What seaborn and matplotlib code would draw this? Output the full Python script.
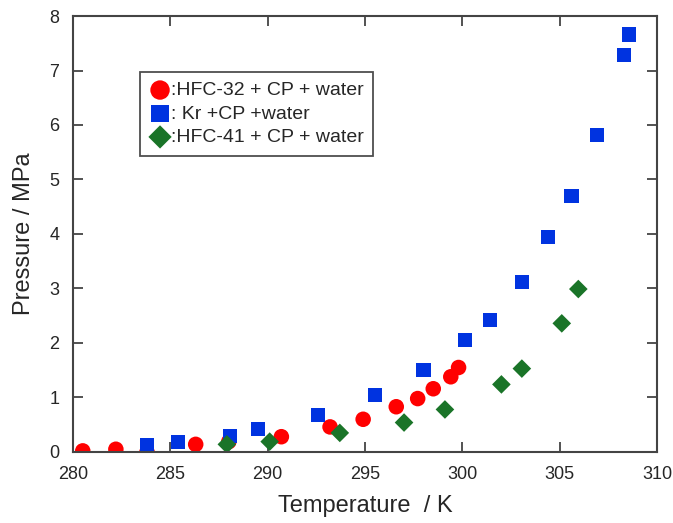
import pandas as pd
import numpy as np
import matplotlib.pyplot as plt
import seaborn as sns

# data
t_hfc32 = [280.5, 282.2, 283.8, 286.3, 288.0, 290.7, 293.2, 294.9, 296.6, 297.7, 298.5, 299.4, 299.8]
p_hfc32 = [0.02, 0.05, 0.00, 0.14, 0.19, 0.28, 0.46, 0.60, 0.83, 0.98, 1.16, 1.38, 1.55]

t_kr = [283.8, 285.4, 288.05, 289.5, 292.6, 295.5, 298.0, 300.15, 301.4, 303.05, 304.4, 305.6, 306.9, 308.3, 308.55]
p_kr = [0.12, 0.18, 0.30, 0.42, 0.68, 1.05, 1.50, 2.05, 2.42, 3.12, 3.94, 4.70, 5.82, 7.28, 7.66]

t_hfc41 = [287.9, 290.1, 293.7, 297.0, 299.1, 302.0, 303.05, 305.1, 305.95]
p_hfc41 = [0.14, 0.19, 0.35, 0.54, 0.78, 1.24, 1.53, 2.36, 2.99]

labels = [":HFC-32 + CP + water", ": Kr +CP +water", ":HFC-41 + CP + water"]
x_ticks = [280, 285, 290, 295, 300, 305, 310]
y_ticks = [0, 1, 2, 3, 4, 5, 6, 7, 8]

df = pd.concat([
    pd.DataFrame({"T": t_hfc32, "P": p_hfc32, "system": labels[0]}),
    pd.DataFrame({"T": t_kr, "P": p_kr, "system": labels[1]}),
    pd.DataFrame({"T": t_hfc41, "P": p_hfc41, "system": labels[2]}),
])

sns.set_style("ticks")
plt.rcParams["font.family"] = ["Liberation Sans", "DejaVu Sans"]

fig = plt.figure(figsize=(6.73, 5.23), dpi=100)
ax = fig.add_axes([0.1085, 0.1358, 0.868, 0.8336])

palette = {labels[0]: "#ff0000", labels[1]: "#0033e0", labels[2]: "#1a7428"}
markers = {labels[0]: "o", labels[1]: "s", labels[2]: "D"}
sizes = {labels[0]: 125, labels[1]: 105, labels[2]: 90}

for lab in labels:
    sub = df[df["system"] == lab]
    sns.scatterplot(data=sub, x="T", y="P", color=palette[lab], marker=markers[lab],
                    s=sizes[lab], edgecolor="none", linewidth=0, label=lab, ax=ax)

ax.set_xlim(280, 310)
ax.set_ylim(0, 8)
ax.set_xticks(x_ticks)
ax.set_yticks(y_ticks)
ax.tick_params(direction="in", top=True, right=True, length=7, width=1.3,
               labelsize=13, color="#444444")
ax.tick_params(axis="x", pad=10)
ax.tick_params(axis="y", pad=10)
for sp in ax.spines.values():
    sp.set_color("#444444")
    sp.set_linewidth(1.5)

ax.set_xlabel("Temperature  / K", fontsize=17, labelpad=9)
ax.set_ylabel("Pressure / MPa", fontsize=17, labelpad=10)

leg = ax.legend(loc="upper left", bbox_to_anchor=(0.114, 0.872), fontsize=14,
                frameon=True, fancybox=False, handletextpad=0.0, borderpad=0.5,
                labelspacing=0.3, handlelength=1.1, borderaxespad=0, markerscale=1.25)
leg.get_frame().set_edgecolor("#222222")
leg.get_frame().set_linewidth(1.3)

fig.savefig("out.png", dpi=100)
